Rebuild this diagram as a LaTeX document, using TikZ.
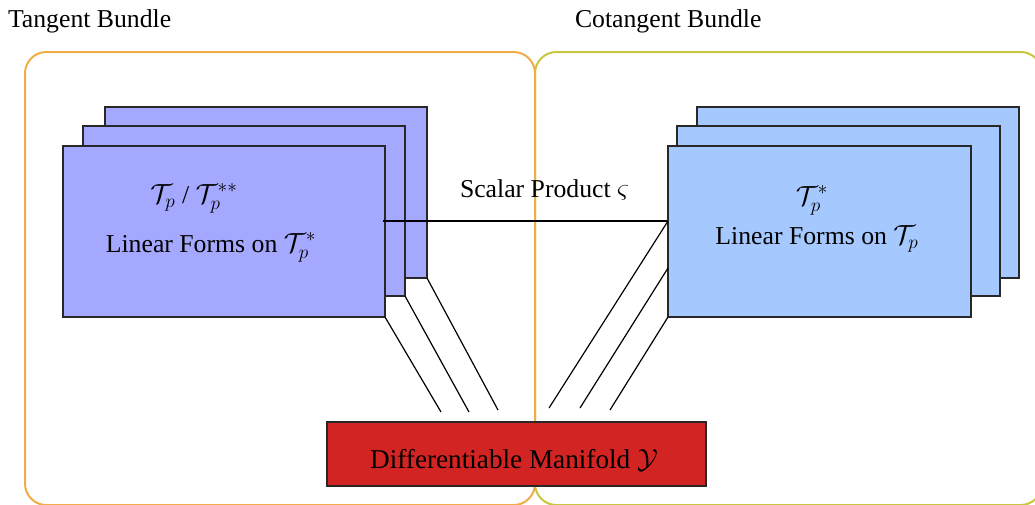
\documentclass[tikz,border=0pt]{standalone}
\usepackage{fontspec}
\setmainfont{Liberation Serif}

\definecolor{tanEdge}{RGB}{240,172,72}
\definecolor{cotEdge}{RGB}{200,198,62}
\definecolor{vecFill}{RGB}{165,168,255}
\definecolor{covFill}{RGB}{165,200,254}
\definecolor{manFill}{RGB}{210,36,34}
\definecolor{paneEdge}{RGB}{40,40,40}

\tikzset{
  bundle/.style={draw=#1, line width=1.5pt, rounded corners=16pt,
    inner sep=0pt, outer sep=0pt},
  pane/.style 2 args={draw=paneEdge, line width=0.9pt, inner sep=0pt,
    outer sep=0pt, minimum width=#1*0.75pt, minimum height=#2*0.75pt},
  label/.style={inner sep=0pt, outer sep=0pt,
    font=\fontsize{19.3}{23}\selectfont},
  link/.style={draw=black, line width=0.9pt}
}

\begin{document}
\begin{tikzpicture}[x=0.75pt, y=-0.75pt]
\useasboundingbox (0,0) rectangle (1035,504);
\clip (0,0) rectangle (1035,504);

% the two bundles
\node[bundle=cotEdge, minimum width=507*0.75pt, minimum height=453*0.75pt]
  (CB) at (788.5,278.5) {};
\node[bundle=tanEdge, minimum width=510*0.75pt, minimum height=453*0.75pt]
  (TB) at (280,278.5) {};
\node[label, anchor=base west] (TBt) at (8,27) {Tangent Bundle};
\node[label, anchor=base west] (CBt) at (575,27) {Cotangent Bundle};

% stack of tangent spaces
\node[pane={322}{171}, fill=vecFill] (L3) at (266,192.5) {};
\node[pane={322}{170}, fill=vecFill] (L2) at (244,211) {};
\node[pane={322}{171}, fill=vecFill] (L1) at (224,231.5) {};
\coordinate (sp) at (0,221);
\draw[link] ([xshift=-1.5pt]L1.east |- sp) -- (668,221) coordinate (Rhook);
\node[label, anchor=base] (L1a) at (194,203)
  {$\mathcal{T}_p$ / $\mathcal{T}_p^{**}$};
\node[label, anchor=base] (L1b) at (211,252)
  {Linear Forms on $\mathcal{T}_p^{*}$};

\node[label, anchor=base west] (sc) at (460,197) {Scalar Product $\varsigma$};

% manifold
\node[pane={379}{64}, fill=manFill] (M) at (516.5,454) {};
\node[label, anchor=base, font=\fontsize{20.4}{24}\selectfont] (Mt)
  at (514,468) {Differentiable Manifold $\mathcal{Y}$};

% projections of the tangent spaces
\coordinate (ml1) at (441,412);
\coordinate (ml2) at (469,412);
\coordinate (ml3) at (498,410);
\draw[link] (L1.south east) -- (ml1);
\draw[link] (L2.south east) -- (ml2);
\draw[link] (L3.south east) -- (ml3);

% stack of cotangent spaces
\node[pane={322}{171}, fill=covFill] (R3) at (858,192.5) {};
\node[pane={323}{170}, fill=covFill] (R2) at (838.5,211) {};
\coordinate (mr1) at (549,408);
\coordinate (mr2) at (580,408);
\coordinate (mr3) at (610,410);
\coordinate (rh2) at (0,268);
\node[pane={303}{171}, fill=covFill] (R1) at (819.5,231.5) {};
\draw[link] (R1.west |- sp) -- (mr1);
\draw[link] (R1.west |- rh2) -- (mr2);
\draw[link] (R1.south west) -- (mr3);
\node[label, anchor=base] (R1a) at (812,205) {$\mathcal{T}_p^{*}$};
\node[label, anchor=base] (R1b) at (817,244) {Linear Forms on $\mathcal{T}_p$};
\end{tikzpicture}
\end{document}
